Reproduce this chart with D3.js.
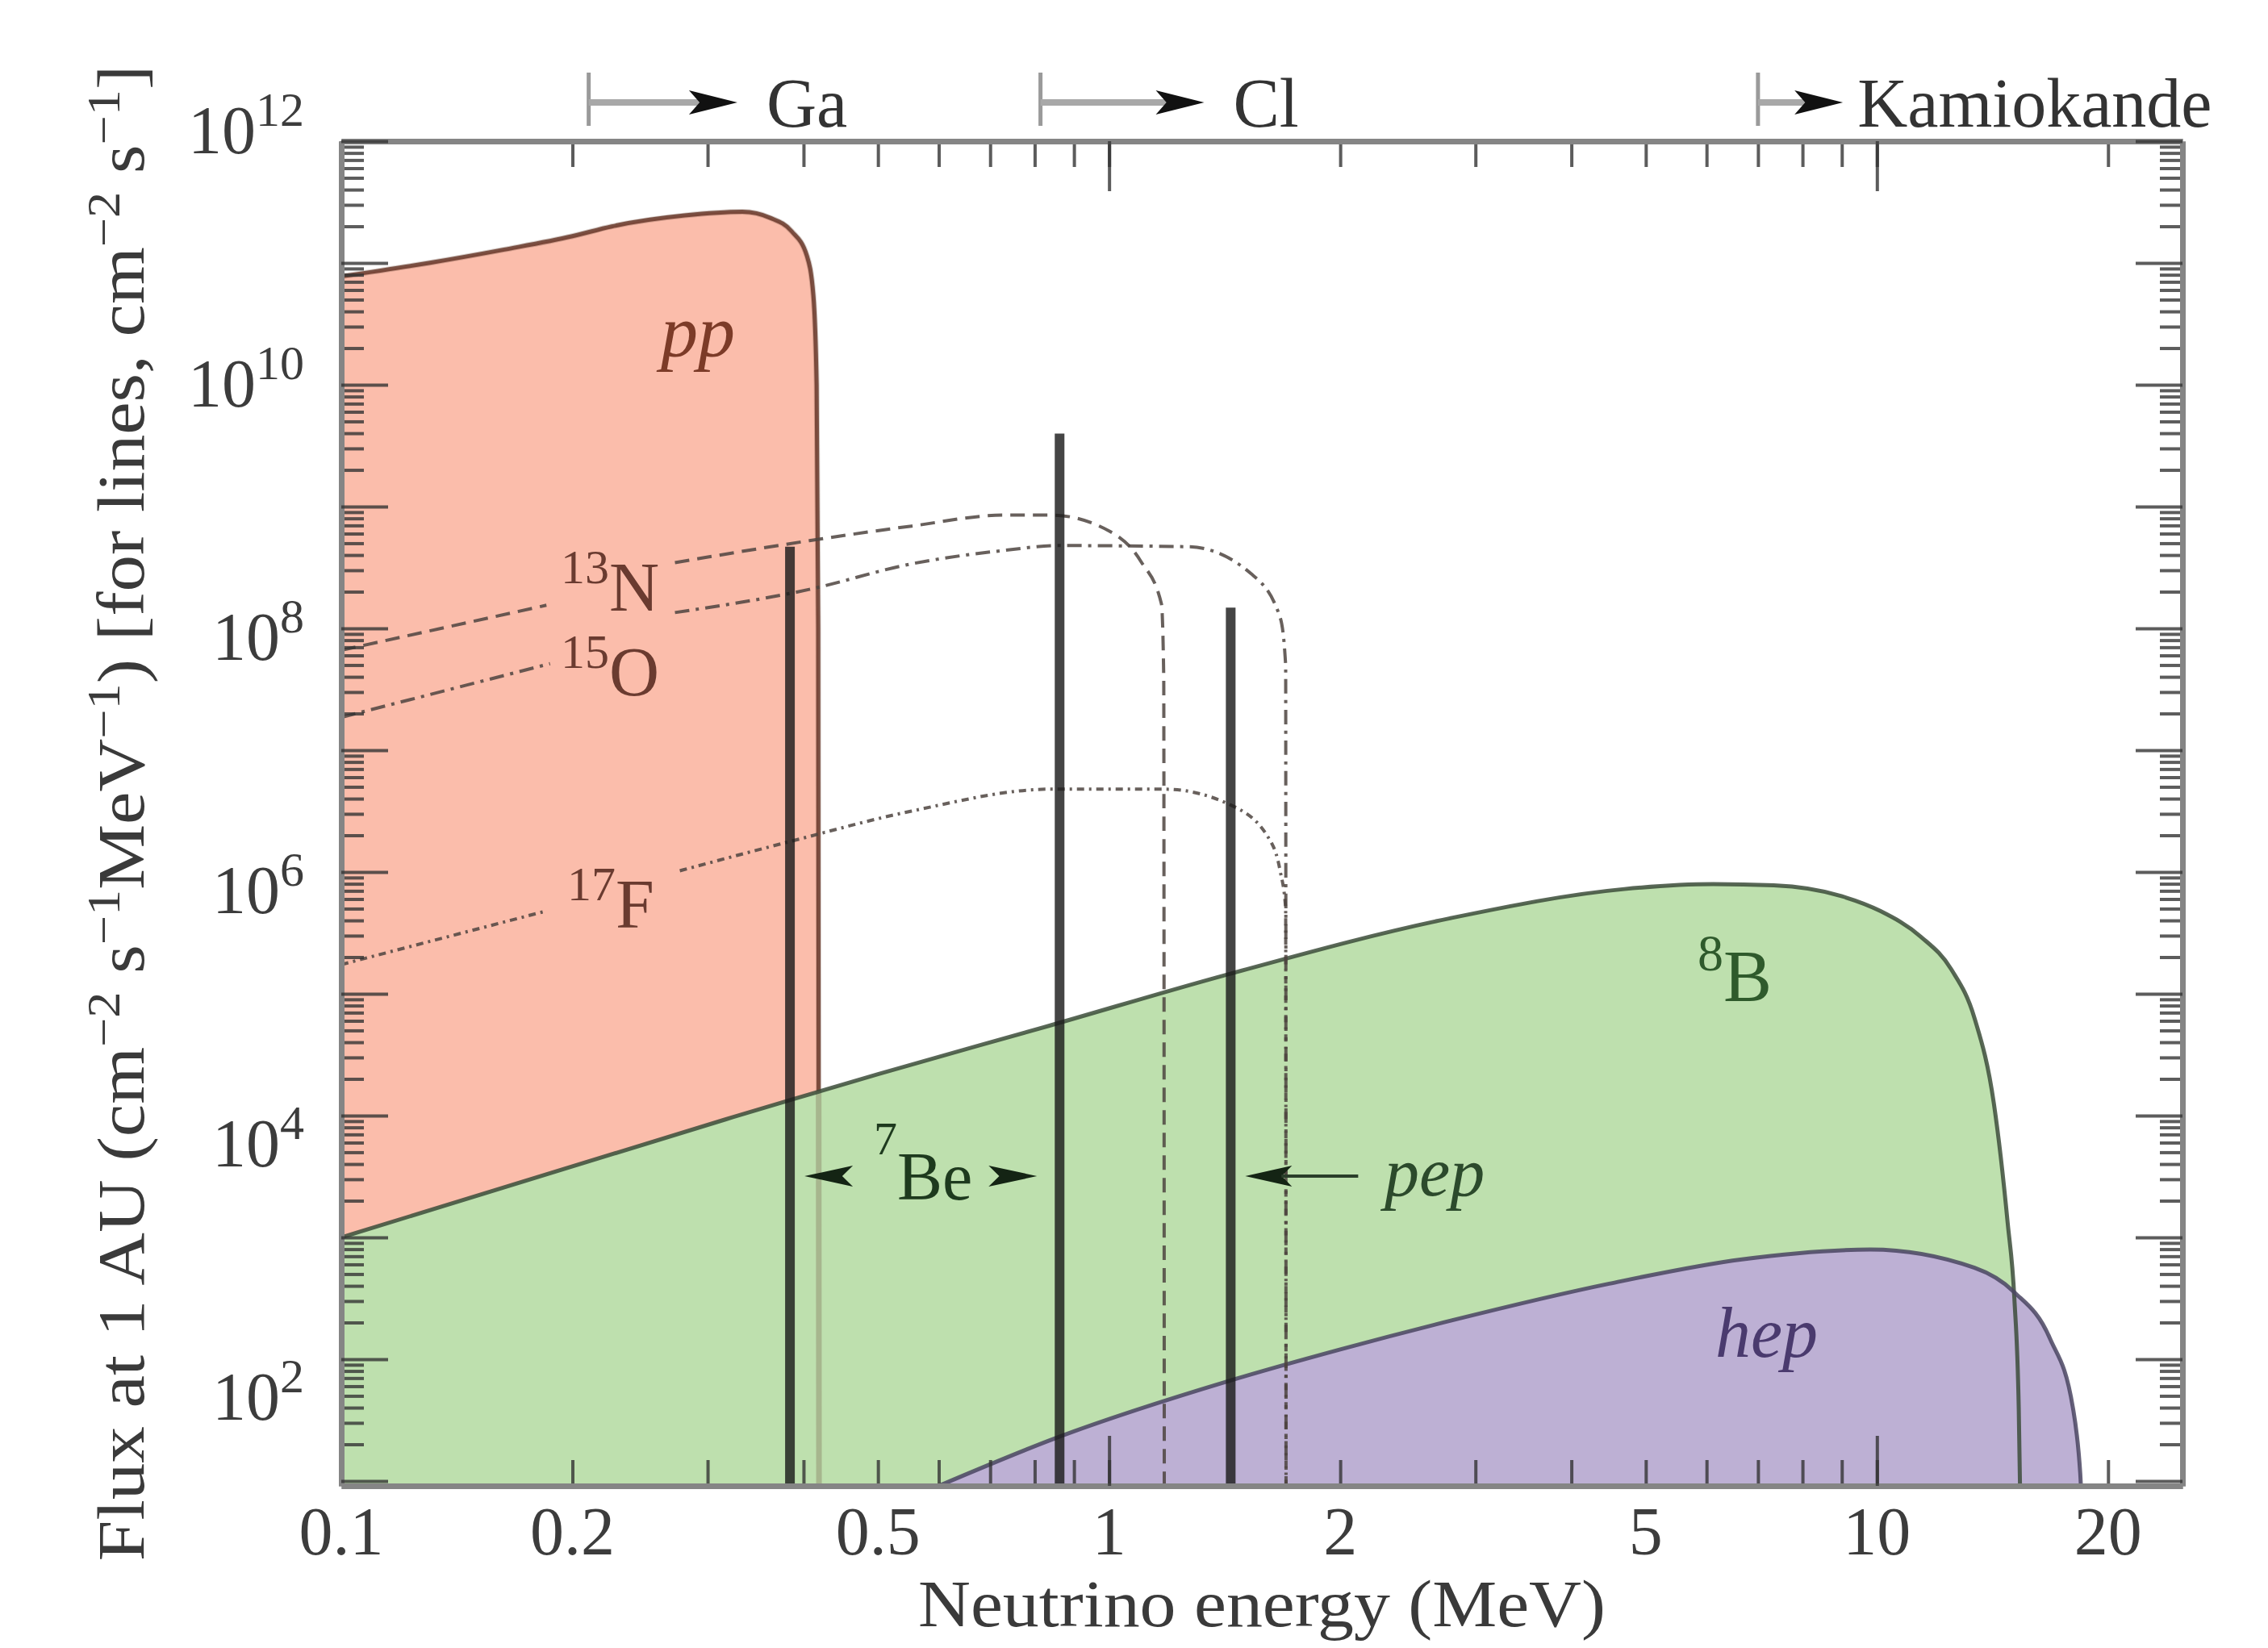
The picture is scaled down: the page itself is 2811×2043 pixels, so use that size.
<!DOCTYPE html>
<html>
<head>
<meta charset="utf-8">
<script src="https://cdn.jsdelivr.net/npm/d3@7"></script>
<style>
html, body { margin: 0; padding: 0; background: #fff; }
svg { display: block; font-family: "Liberation Serif", "Times New Roman", serif; }
</style>
</head>
<body>
<svg id="chart" width="2811" height="2043"></svg>
<script>
// spectra: [energy in MeV, log10 flux]
const ppSpectrum = [[0.1,10.89],[0.13,11.00],[0.163,11.11],[0.2,11.22],[0.225,11.30],[0.28,11.39],[0.333,11.42],
  [0.362,11.37],[0.386,11.26],[0.404,11.06],[0.412,10.73],[0.416,10.0],[0.418,8.0],[0.419,0.5]];
const b8Spectrum = [[0.1,3.0],[0.317,3.97],[0.39,4.14],[0.5,4.34],[0.838,4.74],[1.41,5.15],[2.78,5.62],[4.69,5.86],
  [6.12,5.90],[7.34,5.89],[9.01,5.80],[10.1,5.68],[11.4,5.47],[12.5,5.20],[13.4,4.80],[14.2,4.10],[14.8,3.12],
  [15.1,2.50],[15.3,1.6],[15.4,0.5]];
const hepSpectrum = [[0.6,0.96],[0.85,1.35],[1.43,1.82],[2.0,2.08],[2.8,2.32],[4.48,2.62],[6.67,2.82],[9.8,2.90],
  [13.4,2.75],[15.1,2.55],[16.8,2.17],[18.0,1.60],[18.4,1.06],[18.6,0.5]];
const n13Spectrum = [[0.1,7.82],[0.185,8.19],[0.272,8.54],[0.407,8.72],[0.553,8.84],[0.73,8.93],[0.84,8.93],
  [1.0,8.80],[1.10,8.55],[1.17,8.20],[1.178,7.6],[1.18,0.5]];
const o15Spectrum = [[0.1,7.27],[0.187,7.71],[0.272,8.13],[0.407,8.32],[0.553,8.53],[0.73,8.64],[0.86,8.68],
  [1.27,8.67],[1.53,8.45],[1.67,8.09],[1.698,7.7],[1.70,0.5]];
const f17Spectrum = [[0.1,5.24],[0.185,5.68],[0.276,6.01],[0.384,6.25],[0.553,6.50],[0.84,6.68],[1.18,6.68],
  [1.44,6.55],[1.63,6.23],[1.67,6.01],[1.698,5.7],[1.70,0.5]];

// line sources: energy (MeV), log10 flux (cm^-2 s^-1)
const lineEnergies = [0.384, 0.862, 1.44];
const lineFluxes = [8.67, 9.60, 8.17];

// detector thresholds along the top
const detectorNames = ["Ga", "Cl", "Kamiokande"];
const detectorThresholds = [0.21, 0.814, 7.0];
const detectorArrowEnds = [0.328, 1.33, 9.03];

const xTickLabels = [0.1, 0.2, 0.5, 1, 2, 5, 10, 20];
const xMajorTicks = [0.1, 1, 10];
const yLabelExponents = [12, 10, 8, 6, 4, 2];

const svg = d3.select('#chart');
const plot = { left: 423, top: 175, right: 2705, bottom: 1842 };

const x = d3.scaleLog().domain([0.1, 25]).range([plot.left, plot.right]);
const y = d3.scaleLog().domain([Math.pow(10, 0.96), 1e12]).range([plot.bottom, plot.top]);
// the printed exponent labels sit on a slightly longer spacing than the ticks
const yLabel = d3.scaleLog().domain([1e12, 1e2]).range([190, 1760]);
const pow = v => Math.pow(10, v);

const defs = svg.append('defs');
defs.append('clipPath').attr('id', 'plotClip')
  .append('rect')
  .attr('x', plot.left).attr('y', plot.top)
  .attr('width', plot.right - plot.left).attr('height', plot.bottom - plot.top);
// pp edge is drawn dark only above the point where it meets the 8B spectrum
const ppEdgeMeet = y(pow(4.2));
defs.append('clipPath').attr('id', 'ppTopClip')
  .append('rect')
  .attr('x', plot.left).attr('y', plot.top)
  .attr('width', plot.right - plot.left).attr('height', ppEdgeMeet - plot.top);

const area = d3.area().curve(d3.curveMonotoneX)
  .x(d => x(d[0])).y0(plot.bottom + 30).y1(d => y(pow(d[1])));
const line = d3.line().curve(d3.curveMonotoneX)
  .x(d => x(d[0])).y(d => y(pow(d[1])));

const g = svg.append('g').attr('clip-path', 'url(#plotClip)');

// filled spectra
g.append('path').attr('d', area(ppSpectrum)).attr('fill', '#fbbdab');
g.append('path').attr('d', area(b8Spectrum)).attr('fill', '#bee0ae');
g.append('path').attr('d', area(hepSpectrum)).attr('fill', '#bdb0d4');
// pp edge: faint where it runs behind the other spectra, dark above
g.append('path').attr('d', line(ppSpectrum)).attr('fill', 'none')
  .attr('stroke', '#6a4a3c').attr('stroke-width', 7).attr('stroke-opacity', 0.28);
g.append('g').attr('clip-path', 'url(#ppTopClip)')
  .append('path').attr('d', line(ppSpectrum)).attr('fill', 'none')
  .attr('stroke', '#6a3a2c').attr('stroke-width', 5).attr('stroke-opacity', 0.85);
[[b8Spectrum, '#3c4c3a'], [hepSpectrum, '#4a4562']].forEach(([data, stroke]) => {
  g.append('path').attr('d', line(data)).attr('fill', 'none')
    .attr('stroke', stroke).attr('stroke-width', 5).attr('stroke-opacity', 0.85);
});

// CNO continua, broken where their labels sit
const labelGap = [0.19, 0.27];
const cno = [
  { data: n13Spectrum, dash: '18,10' },
  { data: o15Spectrum, dash: '18,8,4,8' },
  { data: f17Spectrum, dash: '9,6,3,6' }
];
cno.forEach(s => {
  const left = s.data.filter(d => d[0] <= labelGap[0]);
  const right = s.data.filter(d => d[0] >= labelGap[1]);
  [left, right].forEach(part => {
    g.append('path').attr('d', line(part)).attr('fill', 'none')
      .attr('stroke', '#4e4440').attr('stroke-width', 4)
      .attr('stroke-dasharray', s.dash).attr('stroke-opacity', 0.85);
  });
});

// monoenergetic lines
lineEnergies.forEach((e, i) => {
  g.append('line')
    .attr('x1', x(e)).attr('x2', x(e))
    .attr('y1', y(pow(lineFluxes[i]))).attr('y2', plot.bottom + 10)
    .attr('stroke', '#1c1c1c').attr('stroke-opacity', 0.82).attr('stroke-width', 12);
});

// axes (ticks point inward)
const tickColor = '#333';
function styleAxis(sel) {
  sel.select('.domain').attr('stroke', '#858585').attr('stroke-width', 7);
  sel.selectAll('.tick line').attr('stroke', tickColor).attr('stroke-width', 4).attr('stroke-opacity', 0.8);
  sel.selectAll('.tick text').remove();
}
const yMinor = [];
for (let p = 1; p < 12; p++) for (let k = 2; k <= 9; k++) if (k * pow(p) >= y.domain()[0]) yMinor.push(k * pow(p));
const yMajor = d3.range(1, 13).map(pow);

[['bottom', plot.bottom], ['top', plot.top]].forEach(([side, pos]) => {
  const mk = side === 'bottom' ? d3.axisBottom : d3.axisTop;
  svg.append('g').attr('transform', `translate(0,${pos})`)
    .call(mk(x).tickValues(x.ticks()).tickSizeInner(-32).tickSizeOuter(0).tickFormat(''))
    .call(styleAxis);
  svg.append('g').attr('transform', `translate(0,${pos})`)
    .call(mk(x).tickValues(xMajorTicks).tickSizeInner(-62).tickSizeOuter(0).tickFormat(''))
    .call(styleAxis);
});
[['left', plot.left], ['right', plot.right]].forEach(([side, pos]) => {
  const mk = side === 'left' ? d3.axisLeft : d3.axisRight;
  svg.append('g').attr('transform', `translate(${pos},0)`)
    .call(mk(y).tickValues(yMinor).tickSizeInner(-28).tickSizeOuter(0).tickFormat(''))
    .call(styleAxis);
  svg.append('g').attr('transform', `translate(${pos},0)`)
    .call(mk(y).tickValues(yMajor).tickSizeInner(-58).tickSizeOuter(0).tickFormat(''))
    .call(styleAxis);
});

// tick labels
svg.append('g').selectAll('text').data(xTickLabels).join('text')
  .attr('x', d => x(d)).attr('y', 1927)
  .attr('text-anchor', 'middle').attr('font-size', 84).attr('fill', '#3c3c3c')
  .text(d => String(d));

const yl = svg.append('g').selectAll('text').data(yLabelExponents).join('text')
  .attr('x', 377).attr('y', d => yLabel(pow(d)))
  .attr('text-anchor', 'end').attr('font-size', 84).attr('fill', '#3c3c3c');
yl.append('tspan').text('10');
yl.append('tspan').attr('dy', -34).attr('font-size', 60).text(d => String(d));

// superscript helper
function richText(sel, parts, size, supSize, rise) {
  let up = false;
  parts.forEach(p => {
    const isSup = Array.isArray(p);
    const t = sel.append('tspan').text(isSup ? p[0] : p).attr('font-size', isSup ? supSize : size);
    if (isSup && !up) { t.attr('dy', -rise); up = true; }
    else if (!isSup && up) { t.attr('dy', rise); up = false; }
  });
  return sel;
}

// axis titles
const xt = svg.append('text').attr('x', 1564).attr('y', 2016)
  .attr('text-anchor', 'middle').attr('font-size', 82).attr('fill', '#3a3a3a')
  .text('Neutrino energy (MeV)');
const yt = svg.append('text').attr('text-anchor', 'middle').attr('fill', '#3a3a3a')
  .attr('transform', 'translate(178,1008) rotate(-90)');
richText(yt, ['Flux at 1 AU (cm', ['\u22122'], ' s', ['\u22121'], 'MeV', ['\u22121'],
  ') [for lines, cm', ['\u22122'], ' s', ['\u22121'], ']'], 82, 58, 30);
// stretch titles to the measured span of the reference
function fitWidth(sel, target, tx) {
  const w = sel.node().getBBox().width;
  const s = target / w;
  sel.attr('transform', tx(s));
}
fitWidth(xt, 852, s => `translate(1564,0) scale(${s},1) translate(-1564,0)`);
fitWidth(yt, 1855, s => `translate(178,1008) rotate(-90) scale(${s},1)`);

// detector thresholds
const arrowY = 127;
function arrowHead(parent, tipX, yy, dir, len, half, color) {
  const b = tipX - dir * len, n = tipX - dir * len * 0.78;
  parent.append('path')
    .attr('d', `M${tipX},${yy} L${b},${yy - half} L${n},${yy} L${b},${yy + half} Z`)
    .attr('fill', color);
}
const topG = svg.append('g');
detectorNames.forEach((name, i) => {
  const x0 = x(detectorThresholds[i]), x1 = x(detectorArrowEnds[i]);
  topG.append('line').attr('x1', x0).attr('x2', x0).attr('y1', 90).attr('y2', 156)
    .attr('stroke', '#9a9a9a').attr('stroke-width', 5);
  topG.append('line').attr('x1', x0).attr('x2', x1 - 40).attr('y1', arrowY).attr('y2', arrowY)
    .attr('stroke', '#a8a8a8').attr('stroke-width', 8);
  arrowHead(topG, x1, arrowY, 1, 60, 15, '#111');
  topG.append('text').attr('x', x1 + (i === 2 ? 18 : 36)).attr('y', 157)
    .attr('font-size', 86).attr('fill', '#333').text(name);
});

// source labels
const lab = svg.append('g');
lab.append('text').attr('x', 865).attr('y', 442).attr('text-anchor', 'middle')
  .attr('font-size', 92).attr('font-style', 'italic').attr('fill', '#7c3b28').text('pp');
[['13', 'N', 695, 757], ['15', 'O', 695, 862], ['17', 'F', 703, 1150]].forEach(([m, el, lx, ly]) => {
  const t = lab.append('text').attr('x', lx).attr('y', ly).attr('fill', '#6a3b30');
  richText(t, [[m], el], 86, 60, 34);
});
richText(lab.append('text').attr('x', 2104).attr('y', 1241).attr('fill', '#2f5a2c'), [['8'], 'B'], 90, 64, 38);
lab.append('text').attr('x', 2126).attr('y', 1682)
  .attr('font-size', 88).attr('font-style', 'italic').attr('fill', '#4a3a6e').text('hep');

// 7Be and pep markers
const beY = 1458;
const xBeL = x(lineEnergies[0]) + 18, xBeR = x(lineEnergies[1]) - 28;
arrowHead(lab, xBeL, beY, -1, 60, 13, '#142414');
arrowHead(lab, xBeR, beY, 1, 60, 13, '#142414');
richText(lab.append('text').attr('x', 1083).attr('y', 1487).attr('fill', '#1e3a1e'), [['7'], 'Be'], 84, 58, 56);
const xPep = x(lineEnergies[2]) + 18;
arrowHead(lab, xPep, beY, -1, 58, 13, '#142414');
lab.append('line').attr('x1', xPep + 45).attr('x2', xPep + 140).attr('y1', beY).attr('y2', beY)
  .attr('stroke', '#2a3e2a').attr('stroke-width', 4);
lab.append('text').attr('x', 1716).attr('y', 1482)
  .attr('font-size', 86).attr('font-style', 'italic').attr('fill', '#2c4a2c').text('pep');
</script>
</body>
</html>
